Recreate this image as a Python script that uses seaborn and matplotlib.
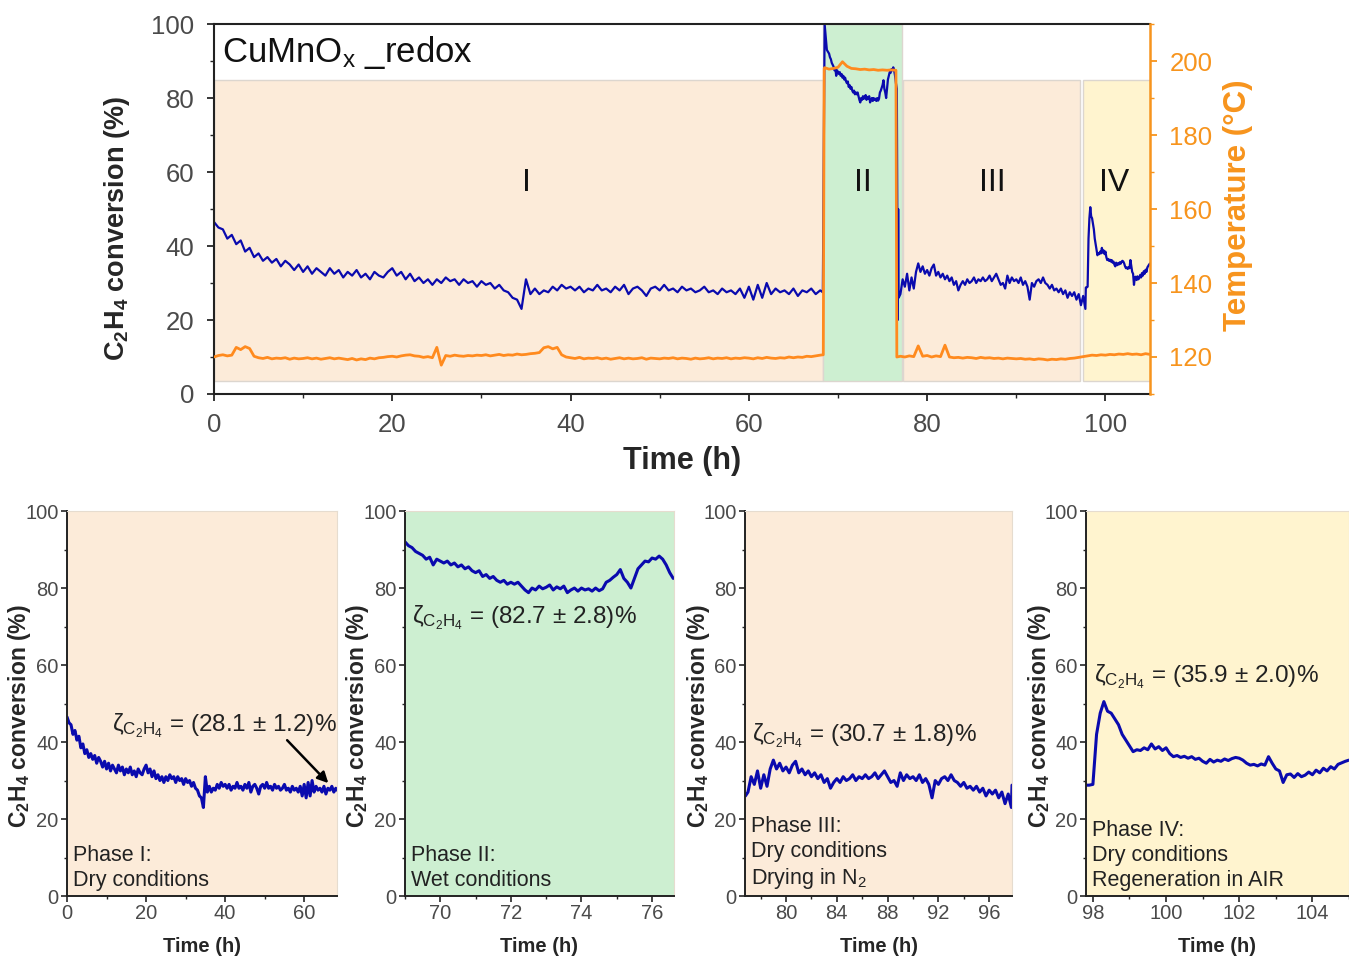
import numpy as np
import pandas as pd
import matplotlib
matplotlib.use("Agg")
import matplotlib.pyplot as plt
import seaborn as sns
from matplotlib.patches import Rectangle
from matplotlib.ticker import MultipleLocator

sns.set_style("ticks")
plt.rcParams["font.family"] = ["Liberation Sans", "DejaVu Sans"]
plt.rcParams["mathtext.fontset"] = "custom"
plt.rcParams["mathtext.rm"] = "Liberation Sans"
plt.rcParams["mathtext.it"] = "Liberation Sans:italic"
plt.rcParams["mathtext.bf"] = "Liberation Sans:bold"

# ---------------- C2H4 conversion (%) ----------------
# Phase I, every 0.5 h from 0 h
conv_phase1 = [
    46.5, 45.0, 44.5, 42.0, 43.0, 40.5, 41.5, 38.5, 39.5, 37.0,
    38.0, 36.0, 37.0, 35.5, 36.5, 34.5, 36.0, 35.0, 33.5, 35.0,
    33.0, 34.5, 32.5, 34.0, 33.0, 32.0, 34.0, 32.5, 33.5, 31.5,
    33.0, 32.0, 33.5, 31.5, 32.5, 31.0, 33.0, 32.0, 31.5, 33.0,
    34.0, 32.0, 33.0, 31.0, 32.5, 30.5, 31.5, 30.0, 31.0, 29.5,
    31.0, 30.0, 31.5, 30.5, 31.0, 29.5, 31.0, 30.0, 30.5, 29.0,
    30.5, 29.5, 30.0, 28.5, 29.5, 28.0, 27.5, 26.0, 25.5, 23.0,
    31.0, 27.0, 28.5, 27.0, 28.0, 27.5, 29.0, 28.0, 29.5, 28.5,
    29.0, 28.0, 29.0, 27.5, 28.5, 28.0, 29.5, 28.0, 28.5, 27.5,
    29.0, 28.0, 29.5, 27.0, 28.5, 29.0, 28.0, 26.5, 28.5, 29.0,
    28.0, 29.5, 28.0, 28.5, 27.5, 29.0, 28.0, 28.5, 27.5, 28.0,
    29.0, 27.5, 28.0, 27.0, 28.5, 27.5, 28.0, 27.0, 28.5, 26.0,
    29.0, 25.5, 29.5, 26.0, 30.0, 27.0, 28.5, 27.5, 28.0, 27.0,
    28.5, 26.5, 28.0, 27.5, 28.5, 27.0, 28.0,
]
# switch to wet feed
conv_switch_wet_t = [68.3, 68.5, 68.75]
conv_switch_wet = [27.5, 100.0, 93.0]
# Phase II, every 0.1 h from 69.0 h
conv_phase2 = [
    92.0, 91.0, 90.5, 89.5, 89.0, 88.5, 87.5, 88.0, 86.0, 87.5,
    87.0, 86.5, 87.0, 86.0, 86.5, 85.5, 86.0, 85.0, 85.5, 84.5,
    84.0, 84.5, 83.0, 83.5, 82.5, 83.0, 82.0, 81.5, 82.0, 81.0,
    81.5, 81.0, 81.5, 80.5, 79.5, 78.8, 80.0, 79.5, 80.5, 79.8,
    80.2, 80.8, 79.5, 80.3, 79.8, 80.5, 78.8, 79.5, 80.0, 79.2,
    80.0, 79.5, 79.8, 79.2, 80.0, 79.3, 79.8, 81.5, 82.0, 82.8,
    83.5, 84.8, 82.5, 81.5, 80.0, 82.5, 85.0, 86.0, 87.0, 86.8,
    87.8, 87.5, 88.3, 87.5, 86.0, 84.0, 82.5,
]
# switch back to dry feed
conv_switch_dry_t = [76.7, 76.75, 76.8]
conv_switch_dry = [20.0, 50.0, 26.0]
# Phase III, every 0.25 h from 77.0 h
conv_phase3 = [
    27.0, 31.0, 29.0, 32.5, 28.0, 31.5, 28.5, 33.0, 35.3, 33.0,
    34.5, 32.5, 33.5, 32.0, 34.0, 35.0, 32.0, 33.0, 31.5, 32.5,
    31.0, 32.0, 30.5, 31.5, 29.5, 30.5, 28.0, 29.5, 30.5, 29.5,
    31.0, 30.0, 30.5, 31.5, 30.0, 31.0, 30.5, 31.5, 30.5, 31.0,
    32.0, 30.5, 31.5, 32.5, 31.0, 29.5, 30.0, 28.5, 32.0, 30.0,
    31.5, 30.5, 31.0, 30.0, 31.5, 29.5, 30.5, 29.0, 25.5, 30.0,
    29.0, 30.5, 31.0, 30.0, 31.5, 30.0, 29.5, 28.5, 29.5, 28.0,
    28.5, 27.5, 28.5, 27.0, 28.0, 26.0, 27.5, 26.5, 27.5, 25.5,
    27.0, 24.0, 26.5, 23.0,
]
# Phase IV, every 0.1 h from 97.8 h
conv_phase4 = [
    28.8, 28.8, 29.0, 42.0, 47.5, 50.5, 48.0, 47.5, 46.0, 44.5,
    42.0, 40.5, 39.0, 37.5, 38.0, 37.8, 38.5, 38.0, 39.5, 38.2,
    38.8, 37.8, 38.5, 37.0, 36.2, 36.5, 36.0, 36.3, 35.8, 36.2,
    35.5, 35.8, 35.0, 34.5, 35.5, 34.8, 35.3, 35.0, 35.6, 35.2,
    35.7, 36.0, 35.8, 35.3, 34.5, 34.0, 34.2, 33.8, 34.3, 34.0,
    36.2, 34.5, 33.0, 32.5, 29.5, 31.5, 31.7, 30.8, 31.8, 31.0,
    31.4, 32.2, 31.5, 32.7, 32.0, 33.2, 32.5, 33.6, 33.0, 34.2,
    34.6, 35.0, 35.3,
]

# ---------------- Reactor temperature (°C) ----------------
# every 0.5 h from 0 h
temp_phase1 = [
    120.0, 120.4, 120.6, 120.3, 120.5, 122.6, 122.0, 122.8, 122.3, 120.2,
    119.8, 119.6, 119.9, 119.5, 119.7, 119.6, 119.8, 119.4, 119.7, 119.5,
    119.6, 119.8, 119.5, 119.7, 119.4, 119.6, 119.8, 119.5, 119.7, 119.5,
    119.3, 119.6, 119.2, 119.5, 119.3, 119.7, 119.5, 119.8, 119.9, 120.1,
    120.2, 120.0, 120.3, 120.5, 120.6, 120.3, 120.2, 119.9, 120.1, 119.8,
    122.6, 117.8, 120.4, 120.2, 120.5, 120.3, 120.2, 120.4, 120.3, 120.5,
    120.4, 120.6, 120.3, 120.5, 120.7, 120.4, 120.6, 120.5, 120.8, 120.6,
    120.7, 120.9, 121.0, 121.2, 122.5, 122.8, 122.2, 122.6, 120.6, 120.0,
    119.8, 119.6, 119.9, 119.5, 119.7, 119.6, 119.8, 119.5, 119.7, 119.4,
    119.6, 119.8, 119.5, 119.7, 119.5, 119.6, 119.8, 119.4, 119.7, 119.6,
    119.5, 119.7, 119.6, 119.8, 119.5, 119.7, 119.6, 119.4, 119.7, 119.5,
    119.6, 119.8, 119.5, 119.7, 119.6, 119.8, 119.5, 119.7, 119.6, 119.8,
    119.7, 119.5, 119.8, 119.6, 119.9, 119.7, 119.6, 119.8, 119.7, 120.0,
    119.8, 120.0, 119.9, 120.2, 120.1, 120.3, 120.5,
]
temp_switch_wet_t = [68.35, 68.45]
temp_switch_wet = [120.6, 198.0]
# every 0.5 h from 68.5 h
temp_phase2 = [
    198.2, 197.8, 198.0, 198.3, 199.8, 198.6, 198.0, 197.9, 197.7,
    197.8, 197.6, 197.7, 197.5, 197.6, 197.5, 197.6, 197.5,
]
temp_switch_dry_t = [76.6]
temp_switch_dry = [120.0]
# every 0.5 h from 77.0 h
temp_phase34 = [
    120.2, 120.0, 120.3, 120.1, 123.0, 120.2, 120.4, 120.0, 120.3, 120.1,
    123.2, 120.0, 119.8, 119.9, 119.7, 119.9, 119.8, 119.6, 119.9, 119.7,
    119.8, 119.6, 119.7, 119.5, 119.7, 119.6, 119.5, 119.6, 119.4, 119.5,
    119.3, 119.5, 119.4, 119.2, 119.4, 119.3, 119.5, 119.4, 119.6, 119.7,
    119.9, 120.1, 120.3, 120.5, 120.4, 120.6, 120.5, 120.7, 120.6, 120.8,
    120.7, 120.9, 120.7, 120.8, 120.6, 120.9, 120.7,
]

phase_names = ["I", "II", "III", "IV"]
phase_colors = ["#FCEBD9", "#CDEFD1", "#FCEBD9", "#FFF4CF"]
phase_spans = [(0.0, 68.3), (68.3, 77.2), (77.3, 97.2), (97.5, 105.0)]
phase_label_x = [35.0, 72.8, 87.3, 101.0]
panel_xlims = [(0.0, 68.3), (69.0, 76.62), (76.77, 97.8), (97.81, 105.0)]
panel_xticks = [[0, 20, 40, 60], [70, 72, 74, 76], [80, 84, 88, 92, 96], [98, 100, 102, 104]]
panel_minor = [10, 1, 2, 1]
mean_values = ["28.1", "82.7", "30.7", "35.9"]
err_values = ["1.2", "2.8", "1.8", "2.0"]
phase_texts = ["Phase I:\nDry conditions",
               "Phase II:\nWet conditions",
               "Phase III:\nDry conditions\nDrying in N$_\\mathregular{2}$",
               "Phase IV:\nDry conditions\nRegeneration in AIR"]

# assemble series on their sampling grids
conv_t = np.concatenate([
    0.0 + 0.5 * np.arange(len(conv_phase1)),
    conv_switch_wet_t,
    69.0 + 0.1 * np.arange(len(conv_phase2)),
    conv_switch_dry_t,
    77.0 + 0.25 * np.arange(len(conv_phase3)),
    97.8 + 0.1 * np.arange(len(conv_phase4)),
])
conv_v = np.concatenate([conv_phase1, conv_switch_wet, conv_phase2,
                         conv_switch_dry, conv_phase3, conv_phase4])
conv = pd.DataFrame({"time": conv_t, "conversion": conv_v})

temp_t = np.concatenate([
    0.0 + 0.5 * np.arange(len(temp_phase1)),
    temp_switch_wet_t,
    68.5 + 0.5 * np.arange(len(temp_phase2)),
    temp_switch_dry_t,
    77.0 + 0.5 * np.arange(len(temp_phase34)),
])
temp_v = np.concatenate([temp_phase1, temp_switch_wet, temp_phase2,
                         temp_switch_dry, temp_phase34])
temp = pd.DataFrame({"time": temp_t, "temperature": temp_v})

BLUE = "#0A0AAE"
ORANGE = "#FF8A1E"
ORANGE_TXT = "#F7941D"
GREY_TXT = "#4a4a4a"

fig = plt.figure(figsize=(13.49, 9.57), dpi=100)

# ---------------- overview panel ----------------
ax = fig.add_axes([0.1586, 0.5883, 0.6939, 0.3866])
for (x0, x1), c, name in zip(phase_spans, phase_colors, phase_names):
    top = 100 if name == "II" else 85
    ax.add_patch(Rectangle((x0, 3.5), x1 - x0, top - 3.5, facecolor=c,
                           edgecolor="#dcd6cf", lw=1.0, zorder=0))
sns.lineplot(data=conv, x="time", y="conversion", ax=ax, color=BLUE,
             lw=1.6, estimator=None)
ax.set_xlim(0, 105)
ax.set_ylim(0, 100)
ax.xaxis.set_major_locator(MultipleLocator(20))
ax.xaxis.set_minor_locator(MultipleLocator(10))
ax.yaxis.set_major_locator(MultipleLocator(20))
ax.yaxis.set_minor_locator(MultipleLocator(10))
ax.tick_params(which="major", direction="out", length=5, width=1.3,
               labelsize=18.5, labelcolor=GREY_TXT, pad=9)
ax.tick_params(which="minor", direction="out", length=3, width=1.0)
for s in ["left", "bottom", "top"]:
    ax.spines[s].set_color("#222222")
    ax.spines[s].set_linewidth(1.5)
ax.spines["right"].set_visible(False)
ax.set_xlabel("Time (h)", fontsize=22, fontweight="bold")
ax.xaxis.set_label_coords(0.5, -0.14)
ax.set_ylabel("$\\mathbf{C_2H_4}$ conversion (%)", fontsize=19.5, fontweight="bold")
ax.yaxis.set_label_coords(-0.088, 0.446)
ax.text(0.0085, 0.924, "CuMnO$_\\mathregular{x}$ _redox", transform=ax.transAxes,
        fontsize=25, ha="left", va="center", color="#111111")
for name, xl in zip(phase_names, phase_label_x):
    ax.text(xl, 57, name, fontsize=23, ha="center", va="center", color="#111111")

ax2 = ax.twinx()
sns.lineplot(data=temp, x="time", y="temperature", ax=ax2, color=ORANGE,
             lw=2.0, estimator=None)
ax2.set_ylim(110, 210)
ax2.set_xlim(0, 105)
ax2.yaxis.set_major_locator(MultipleLocator(20))
ax2.yaxis.set_minor_locator(MultipleLocator(10))
ax2.tick_params(axis="y", which="major", direction="out", length=5, width=1.3,
                color=ORANGE_TXT, labelsize=18.5, labelcolor=ORANGE_TXT, pad=9)
ax2.tick_params(axis="y", which="minor", direction="out", length=3, width=1.0,
                color=ORANGE_TXT)
for s in ["left", "bottom", "top"]:
    ax2.spines[s].set_visible(False)
ax2.spines["right"].set_color(ORANGE_TXT)
ax2.spines["right"].set_linewidth(1.8)
ax2.set_ylabel("Temperature (°C)", fontsize=22.5, fontweight="bold", color=ORANGE_TXT)
ax2.yaxis.set_label_coords(1.078, 0.511)

# ---------------- phase panels ----------------
panel_lefts = [0.0497, 0.3002, 0.5523, 0.8050]
panel_widths = [0.2001, 0.1994, 0.1979, 0.1950]
zeta_pos = [(11.4, 44.2), (69.2, 72.2), (77.3, 41.6), (98.03, 56.9)]

for i in range(4):
    axp = fig.add_axes([panel_lefts[i], 0.0637, panel_widths[i], 0.4023])
    axp.set_facecolor(phase_colors[i])
    lo, hi = panel_xlims[i]
    sub = conv[(conv["time"] >= lo - 0.01) & (conv["time"] <= hi + 0.01)]
    sns.lineplot(data=sub, x="time", y="conversion", ax=axp, color=BLUE,
                 lw=2.2, estimator=None)
    axp.set_xlim(lo, hi)
    axp.set_ylim(0, 100)
    axp.set_xticks(panel_xticks[i])
    axp.xaxis.set_minor_locator(MultipleLocator(panel_minor[i]))
    axp.yaxis.set_major_locator(MultipleLocator(20))
    axp.yaxis.set_minor_locator(MultipleLocator(10))
    axp.tick_params(which="major", direction="out", length=4, width=1.2,
                    labelsize=14.5, labelcolor=GREY_TXT, pad=2)
    axp.tick_params(which="minor", direction="out", length=2.5, width=1.0)
    for s in ["left", "bottom"]:
        axp.spines[s].set_color("#222222")
        axp.spines[s].set_linewidth(1.4)
    for s in ["top", "right"]:
        axp.spines[s].set_color("#e6dccf")
        axp.spines[s].set_linewidth(0.8)
    axp.set_xlabel("Time (h)", fontsize=14.5, fontweight="bold")
    axp.xaxis.set_label_coords(0.5, -0.106)
    axp.set_ylabel("$\\mathbf{C_2H_4}$ conversion (%)", fontsize=16.5,
                   fontweight="bold")
    axp.yaxis.set_label_coords(-0.125, 0.4675)
    zx, zy = zeta_pos[i]
    axp.text(zx, zy, "ζ$_{\\mathregular{C_2H_4}}$ = (" + mean_values[i] + " ± "
             + err_values[i] + ")%", fontsize=17.5, ha="left", va="center",
             color="#222222")
    axp.text(0.022, 0.012, phase_texts[i], transform=axp.transAxes,
             fontsize=15.5, ha="left", va="bottom", color="#222222",
             linespacing=1.25)
    if i == 0:
        axp.annotate("", xy=(66.6, 28.8), xytext=(55.2, 41.0),
                     arrowprops=dict(arrowstyle="-|>", color="black", lw=1.8,
                                     mutation_scale=16))

fig.savefig("out.png", dpi=100, facecolor="white")
